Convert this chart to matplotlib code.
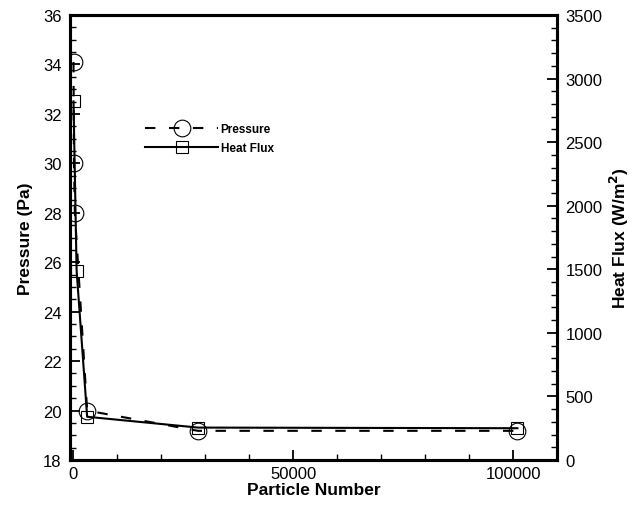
import matplotlib
matplotlib.use("Agg")
import matplotlib.pyplot as plt
from matplotlib.ticker import MultipleLocator

plt.rcParams['font.family'] = ['Liberation Sans', 'DejaVu Sans']

# pressure convergence against particle count
n_pressure = [100, 200, 400, 3200, 28400, 101000]
pressure = [34.1, 30.0, 28.0, 20.0, 19.18, 19.18]

# heat flux convergence against particle count
n_heat = [100, 800, 3200, 28400, 101000]
heat_flux = [2820, 1490, 340, 255, 250]

fig = plt.figure(figsize=(6.38, 5.06), dpi=100)
ax = fig.add_axes([70 / 638, 45 / 506, 487 / 638, 445 / 506])
ax2 = ax.twinx()

lp, = ax.plot(n_pressure, pressure, color='black', lw=1.5, dashes=(5, 6.5),
              marker='o', ms=12, mfc='none', mec='black', mew=0.8,
              label='Pressure')
lh, = ax2.plot(n_heat, heat_flux, color='black', lw=1.5,
               marker='s', ms=9, mfc='none', mec='black', mew=0.8,
               label='Heat Flux')

ax.set_xlim(-700, 110000)
ax.set_ylim(18, 36)
ax2.set_ylim(0, 3500)

ax.xaxis.set_major_locator(MultipleLocator(50000))
ax.xaxis.set_minor_locator(MultipleLocator(10000))
ax.yaxis.set_major_locator(MultipleLocator(2))
ax.yaxis.set_minor_locator(MultipleLocator(0.5))
ax2.yaxis.set_major_locator(MultipleLocator(500))
ax2.yaxis.set_minor_locator(MultipleLocator(100))

for a in (ax, ax2):
    for s in a.spines.values():
        s.set_linewidth(2.2)
    a.tick_params(which='major', direction='in', length=7, width=1.3,
                  labelsize=12, pad=6)
    a.tick_params(which='minor', direction='in', length=4, width=1.0)

# left axis ticks only left/bottom, right axis ticks only on the right
ax.tick_params(which='both', left=True, right=False, top=False, bottom=True)
ax.tick_params(axis='x', pad=4)
ax2.tick_params(which='both', left=False, right=True, top=False,
                bottom=False, labelleft=False, labelbottom=False)
ax2.xaxis.set_visible(False)

ax.set_xlabel('Particle Number', fontsize=12.5, fontweight='bold', labelpad=1)
ax.set_ylabel('Pressure (Pa)', fontsize=12.5, fontweight='bold', labelpad=7)
ax2.set_ylabel('Heat Flux (W/m$^\\mathbf{2}$)', fontsize=12.5,
               fontweight='bold', labelpad=4)

ax.legend(handles=[lp, lh], loc='upper left',
          bbox_to_anchor=(0.154, 0.758), frameon=False,
          borderpad=0, borderaxespad=0,
          prop={'size': 8.5, 'weight': 'bold'}, handlelength=6.2,
          handletextpad=0.2, labelspacing=0.6)

fig.savefig('out.png', dpi=100)
